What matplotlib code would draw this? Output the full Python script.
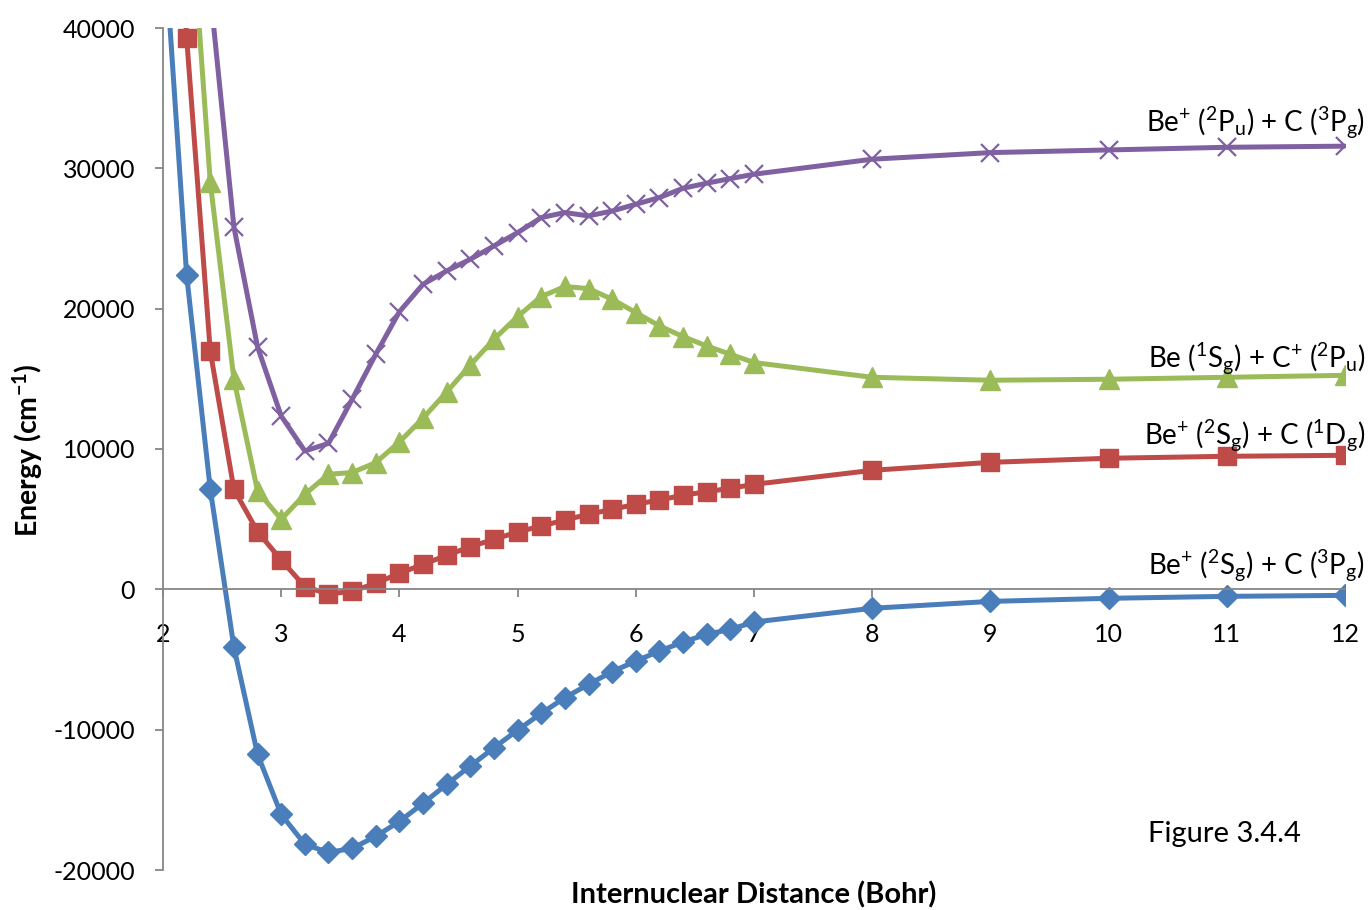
import numpy as np
from matplotlib import pyplot as plt

plt.rcParams['font.family'] = ['Lato', 'DejaVu Sans']
plt.rcParams['mathtext.fontset'] = 'custom'
plt.rcParams['mathtext.rm'] = 'Lato'
plt.rcParams['mathtext.it'] = 'Lato'
plt.rcParams['mathtext.bf'] = 'Lato:bold'
plt.rcParams['mathtext.default'] = 'regular'
plt.rcParams['axes.unicode_minus'] = False

# internuclear distance (Bohr)
distance = [2.0, 2.2, 2.4, 2.6, 2.8, 3.0, 3.2, 3.4, 3.6, 3.8, 4.0, 4.2, 4.4, 4.6, 4.8,
            5.0, 5.2, 5.4, 5.6, 5.8, 6.0, 6.2, 6.4, 6.6, 6.8, 7.0, 8, 9, 10, 11, 12]

# energies (cm-1)
be_plus_2sg_c_3pg = [47500, 22400, 7130, -4130, -11760, -16040, -18170, -18750, -18460, -17600,
                     -16540, -15250, -13900, -12590, -11290, -10030, -8840, -7720, -6770, -5870,
                     -5110, -4400, -3750, -3210, -2850, -2330, -1350, -860, -640, -500, -430]
be_plus_2sg_c_1dg = [70000, 39300, 16960, 7130, 4110, 2090, 190, -330, -140, 430,
                     1140, 1780, 2420, 3040, 3560, 4090, 4510, 4940, 5350, 5700,
                     6060, 6370, 6700, 6960, 7200, 7480, 8480, 9050, 9340, 9480, 9550]
be_1sg_c_plus_2pu = [80000, 52600, 29000, 14970, 7000, 4990, 6770, 8200, 8320, 9030,
                     10500, 12200, 14060, 15990, 17820, 19440, 20860, 21580, 21430, 20670,
                     19720, 18770, 18010, 17340, 16750, 16160, 15110, 14900, 14970, 15110, 15250]
be_plus_2pu_c_3pg = [95000, 65000, 42500, 25820, 17270, 12350, 9860, 10400, 13540, 16750,
                     19780, 21740, 22690, 23520, 24470, 25420, 26490, 26850, 26610, 26960,
                     27440, 27920, 28580, 28940, 29270, 29580, 30650, 31120, 31310, 31500, 31580]

series = [
    (be_plus_2sg_c_3pg, '#4A7EBB', 'D', 11, r'Be$^{+}$ ($^{2}$S$_{g}$) + C ($^{3}$P$_{g}$)', 1070),
    (be_plus_2sg_c_1dg, '#BE4B48', 's', 13, r'Be$^{+}$ ($^{2}$S$_{g}$) + C ($^{1}$D$_{g}$)', 10330),
    (be_1sg_c_plus_2pu, '#9BBB59', '^', 14, r'Be ($^{1}$S$_{g}$) + C$^{+}$ ($^{2}$P$_{u}$)', 15820),
    (be_plus_2pu_c_3pg, '#7F60A0', 'x', 13, r'Be$^{+}$ ($^{2}$P$_{u}$) + C ($^{3}$P$_{g}$)', 32640),
]

fig = plt.figure(figsize=(13.68, 9.10), dpi=100)
ax = fig.add_axes([163 / 1368, 40 / 910, 1182 / 1368, 842 / 910])

for werte, kolor, marker, ms, etykieta, y_tekst in series:
    if marker == 'x':
        ax.plot(distance, werte, color=kolor, lw=3.6, marker=marker, ms=ms, mew=1.6)
    else:
        ax.plot(distance, werte, color=kolor, lw=3.6, marker=marker, ms=ms, mec=kolor)
    ax.text(12.17, y_tekst, etykieta, ha='right', va='baseline', fontsize=20, clip_on=False)

ax.set_xlim(2, 12)
ax.set_ylim(-20000, 40000)
ax.set_xticks(range(2, 13))
ax.set_yticks(range(-20000, 40001, 10000))

szary = '#868686'
ax.spines['top'].set_visible(False)
ax.spines['right'].set_visible(False)
ax.spines['bottom'].set_position(('data', 0))
for s in ('left', 'bottom'):
    ax.spines[s].set_color(szary)
    ax.spines[s].set_linewidth(1.3)
ax.tick_params(axis='x', direction='out', length=6, width=1.3, color=szary, pad=18, labelsize=18)
ax.tick_params(axis='y', direction='out', length=6, width=1.3, color=szary, pad=14, labelsize=18)

ax.text(10.98, -17460, 'Figure 3.4.4', ha='center', va='center', fontsize=21)
fig.text(754 / 1368, 1 - 895 / 910, 'Internuclear Distance (Bohr)', ha='center', va='center',
         fontsize=21, fontweight='bold')
fig.text(28 / 1368, 1 - 450 / 910, r'Energy (cm$\mathregular{^{-1}}$)', ha='center', va='center',
         rotation=90, fontsize=20.5, fontweight='bold')

fig.savefig('out.png', dpi=100)
